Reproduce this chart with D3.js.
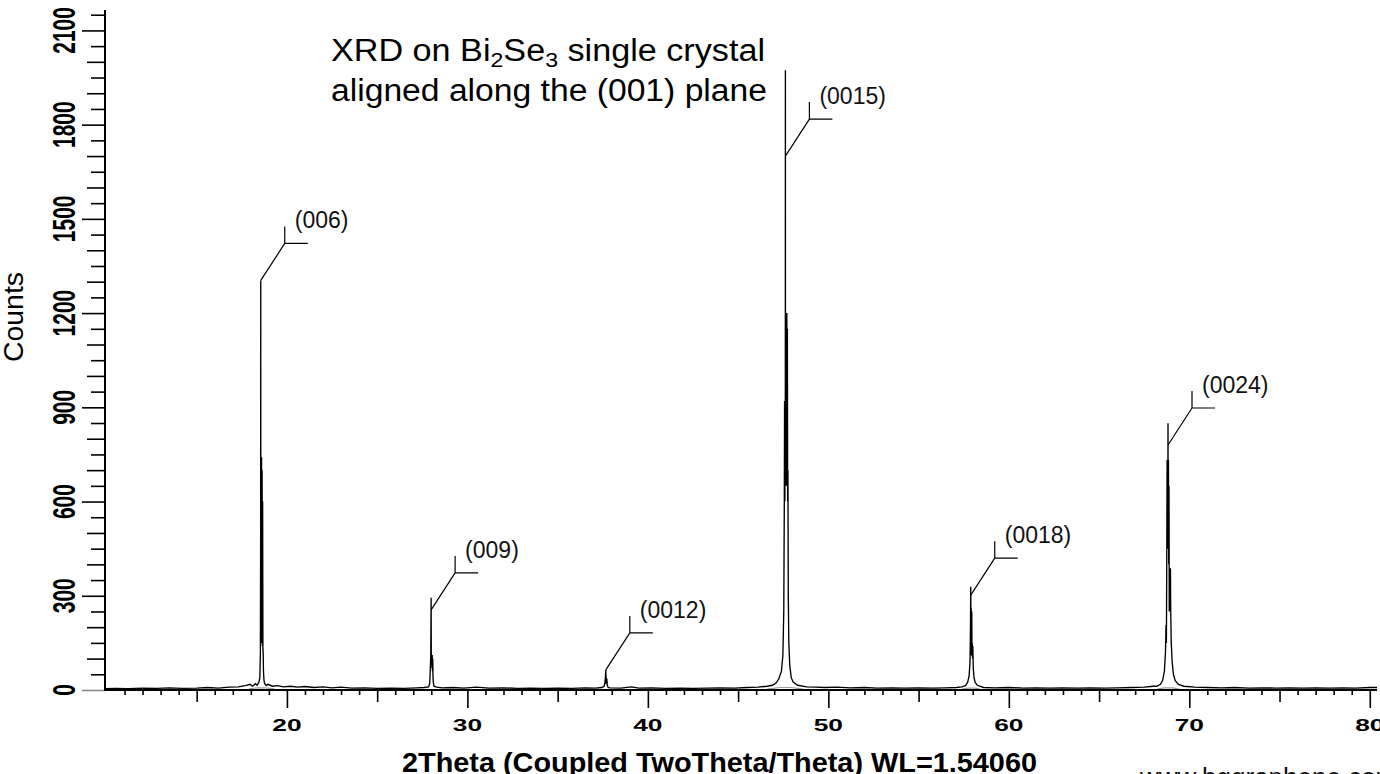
<!DOCTYPE html>
<html><head><meta charset="utf-8">
<script src="https://cdn.jsdelivr.net/npm/d3@7"></script>
<style>html,body{margin:0;padding:0;background:#fff;overflow:hidden}svg{display:block;font-family:"Liberation Sans",Arial,sans-serif}</style>
</head><body>
<svg id="chart" width="1380" height="774"></svg>
<script>
// ---------------- data ----------------
const xTickLabels = [20, 30, 40, 50, 60, 70, 80];
const yTickLabels = [0, 300, 600, 900, 1200, 1500, 1800, 2100];
const xAxisTitle = "2Theta (Coupled TwoTheta/Theta) WL=1.54060";
const yAxisTitle = "Counts";
const watermark = "www.bggraphene.com";

const peakLabels = ["(006)", "(009)", "(0012)", "(0015)", "(0018)", "(0024)"];
const peakTheta = [18.55, 27.99, 37.67, 47.62, 57.89, 68.82];
const peakMarkCounts = [1304, 255, 64, 1700, 302, 780];

// measured scan: [2theta, counts]
const scan = [
  [9.92,4],[10.5,5],[11.2,4],[12.0,6],[12.8,5],[13.5,7],[14.2,5],[15.0,6],[15.6,8],[16.2,6],
  [16.8,9],[17.3,10],[17.7,14],[17.95,18],[18.1,12],[18.25,20],[18.35,15],[18.45,25],
  [18.50,40],[18.53,118],[18.545,500],[18.55,1304],[18.555,300],[18.57,741],[18.58,150],
  [18.595,741],[18.61,150],[18.625,700],[18.64,140],[18.655,600],[18.67,130],[18.685,118],
  [18.70,60],[18.73,30],[18.77,20],[18.85,14],[18.95,18],[19.2,12],[19.5,14],[19.8,10],
  [20.2,12],[20.6,9],[21.0,11],[21.5,8],[22.0,10],[22.5,7],[23.0,9],[23.6,6],[24.3,7],[25.0,5],
  [25.8,6],[26.5,5],[27.2,7],[27.6,8],[27.85,10],[27.91,20],[27.94,60],[27.97,110],[27.99,294],
  [28.0,90],[28.02,111],[28.035,70],[28.05,111],[28.065,60],[28.08,100],[28.095,40],[28.11,25],
  [28.15,12],[28.3,9],[28.6,7],[29.2,8],[29.8,6],[30.5,9],[31.2,6],[32.0,7],[32.8,5],[33.5,6],
  [34.2,5],[35.0,6],[35.8,5],[36.5,7],[37.1,6],[37.45,8],[37.58,12],[37.62,25],[37.65,40],
  [37.67,64],[37.685,20],[37.70,40],[37.715,20],[37.73,35],[37.75,15],[37.8,8],[37.9,7],
  [38.5,6],[39.1,10],[39.5,6],[40.2,7],[41.0,5],[41.8,6],[42.5,5],[43.3,6],[44.0,7],[44.8,6],
  [45.5,8],[46.1,9],[46.6,12],[46.9,15],[47.1,22],[47.25,35],[47.4,60],[47.48,110],[47.53,250],
  [47.56,600],[47.575,920],[47.59,600],[47.605,920],[47.615,650],[47.62,1973],[47.625,650],
  [47.64,1200],[47.655,650],[47.67,1200],[47.685,650],[47.70,1200],[47.715,650],[47.73,1150],
  [47.745,600],[47.76,700],[47.78,300],[47.81,150],[47.86,80],[47.94,40],[48.05,25],[48.3,15],
  [48.8,10],[49.3,9],[49.8,8],[50.5,9],[51.2,7],[52.0,8],[52.7,6],[53.5,7],[54.2,6],[55.0,7],
  [55.8,6],[56.5,7],[57.1,8],[57.4,10],[57.6,14],[57.72,25],[57.8,45],[57.85,90],[57.875,200],
  [57.89,329],[57.9,150],[57.915,261],[57.93,110],[57.945,250],[57.96,110],[57.975,150],
  [57.99,100],[58.005,140],[58.03,70],[58.07,40],[58.13,25],[58.25,15],[58.6,8],[59.2,7],
  [60.0,8],[60.8,6],[61.5,7],[62.3,6],[63.0,7],[63.8,6],[64.5,7],[65.3,6],[66.0,7],[66.8,8],
  [67.5,9],[68.0,12],[68.2,12],[68.4,18],[68.52,30],[68.62,60],[68.68,120],[68.71,207],
  [68.73,150],[68.75,400],[68.77,732],[68.785,450],[68.80,732],[68.81,500],[68.82,849],
  [68.83,500],[68.845,732],[68.86,400],[68.875,650],[68.89,250],[68.92,300],[68.955,388],
  [68.97,250],[69.0,150],[69.05,90],[69.12,50],[69.22,30],[69.4,18],[69.7,12],[70.3,9],
  [71.0,8],[71.8,7],[72.5,8],[73.3,6],[74.0,7],[74.8,6],[75.5,7],[76.3,6],[77.0,7],[77.8,6],
  [78.5,7],[79.2,6],[80.0,8],[80.4,8]
];

// fitted background under the peaks (grey)
const bgCurves = [
  [[17.9,4],[18.4,7],[18.8,7],[19.3,4]],
  [[46.6,3],[47.3,8],[47.95,8],[48.6,3]],
  [[57.4,3],[57.75,6],[58.1,6],[58.4,3]],
  [[68.2,3],[68.6,7],[69.1,7],[69.45,3]]
];

// ---------------- drawing ----------------
const svg = d3.select("#chart");
const x = d3.scaleLinear().domain([9.92, 80.4]).range([105, 1377]);
const y = d3.scaleLinear().domain([0, 2165]).range([690, 10]);

const FONT = '"Liberation Sans", Arial, sans-serif';

function xAxisLevel(vals, size) {
  const g = svg.append("g").attr("transform", "translate(0,690)")
    .call(d3.axisBottom(x).tickValues(vals).tickSize(size).tickSizeOuter(0).tickFormat(""));
  g.selectAll(".tick line").attr("stroke", "#000").attr("stroke-width", 1.6);
  g.select(".domain").remove();
  return g;
}
xAxisLevel(d3.range(11, 81).filter(v => v % 5 !== 0), 5);
xAxisLevel(d3.range(15, 81, 10), 12);
xAxisLevel(xTickLabels, 18);

svg.append("g").selectAll("text").data(xTickLabels).join("text")
  .attr("transform", d => `translate(${x(d)},731) scale(1.55,1)`)
  .attr("text-anchor", "middle")
  .attr("font-family", FONT).attr("font-weight", "bold").attr("font-size", 17)
  .text(d => d);

function yAxisLevel(vals, size, color) {
  const g = svg.append("g").attr("transform", "translate(105,0)")
    .call(d3.axisLeft(y).tickValues(vals).tickSize(size).tickSizeOuter(0).tickFormat(""));
  g.selectAll(".tick line").attr("stroke", color).attr("stroke-width", 1.6);
  g.select(".domain").remove();
  return g;
}
yAxisLevel(d3.range(50, 2151, 50).filter(v => v % 100 !== 0), 14, "#000");
yAxisLevel(d3.range(100, 2151, 100).filter(v => v % 300 !== 0), 18, "#000");
yAxisLevel(yTickLabels.filter(v => v > 0), 23, "#000");
yAxisLevel([0], 23, "#8a8a8a");

svg.append("g").selectAll("text").data(yTickLabels).join("text")
  .attr("transform", d => `translate(75,${y(d)}) scale(1.45,1) rotate(-90)`)
  .attr("text-anchor", "middle")
  .attr("font-family", FONT).attr("font-weight", "bold").attr("font-size", 21)
  .text(d => d);

const line = d3.line().x(d => x(d[0])).y(d => y(d[1]));
svg.append("g").selectAll("path").data(bgCurves).join("path")
  .attr("d", line).attr("fill", "none").attr("stroke", "#9a9a9a").attr("stroke-width", 1.2);

svg.append("path").datum(scan).attr("d", line)
  .attr("fill", "none").attr("stroke", "#000").attr("stroke-width", 1.35)
  .attr("stroke-linejoin", "miter").attr("stroke-miterlimit", 2);

svg.append("line").attr("x1", 105).attr("x2", 105).attr("y1", y(2165)).attr("y2", 691)
  .attr("stroke", "#000").attr("stroke-width", 2);
svg.append("line").attr("x1", 104).attr("x2", x(80.4)).attr("y1", 690).attr("y2", 690)
  .attr("stroke", "#000").attr("stroke-width", 2);

const lead = svg.append("g");
peakLabels.forEach((lab, i) => {
  const x0 = x(peakTheta[i]), y0 = y(peakMarkCounts[i]);
  const jx = x0 + 24, jy = y0 - 37;
  lead.append("path")
    .attr("d", `M${x0},${y0}L${jx},${jy}M${jx},${jy - 17}L${jx},${jy}L${jx + 23},${jy}`)
    .attr("fill", "none").attr("stroke", "#000").attr("stroke-width", 1.2);
  lead.append("text").attr("x", jx + 10).attr("y", jy - 15)
    .attr("font-family", FONT).attr("font-size", 23).attr("fill", "#111")
    .text(lab);
});

const t1 = svg.append("text").attr("x", 331).attr("y", 61)
  .attr("font-family", FONT).attr("font-size", 31).attr("fill", "#000")
  .attr("textLength", 434).attr("lengthAdjust", "spacingAndGlyphs");
t1.append("tspan").text("XRD on Bi");
t1.append("tspan").attr("font-size", 21).attr("dy", 6).text("2");
t1.append("tspan").attr("dy", -6).text("Se");
t1.append("tspan").attr("font-size", 21).attr("dy", 6).text("3");
t1.append("tspan").attr("dy", -6).text(" single crystal");
svg.append("text").attr("x", 331).attr("y", 101)
  .attr("font-family", FONT).attr("font-size", 31).attr("fill", "#000")
  .attr("textLength", 436).attr("lengthAdjust", "spacingAndGlyphs")
  .text("aligned along the (001) plane");

svg.append("text").attr("x", 402).attr("y", 772)
  .attr("font-family", FONT).attr("font-weight", "bold").attr("font-size", 27)
  .attr("textLength", 635).attr("lengthAdjust", "spacingAndGlyphs")
  .text(xAxisTitle);
svg.append("text").attr("transform", "translate(23,317) rotate(-90)")
  .attr("text-anchor", "middle")
  .attr("font-family", FONT).attr("font-size", 27)
  .attr("textLength", 90).attr("lengthAdjust", "spacingAndGlyphs")
  .text(yAxisTitle);

svg.append("text").attr("x", 1140).attr("y", 786)
  .attr("font-family", FONT).attr("font-size", 26).attr("fill", "#111")
  .text(watermark);
</script>
</body></html>
